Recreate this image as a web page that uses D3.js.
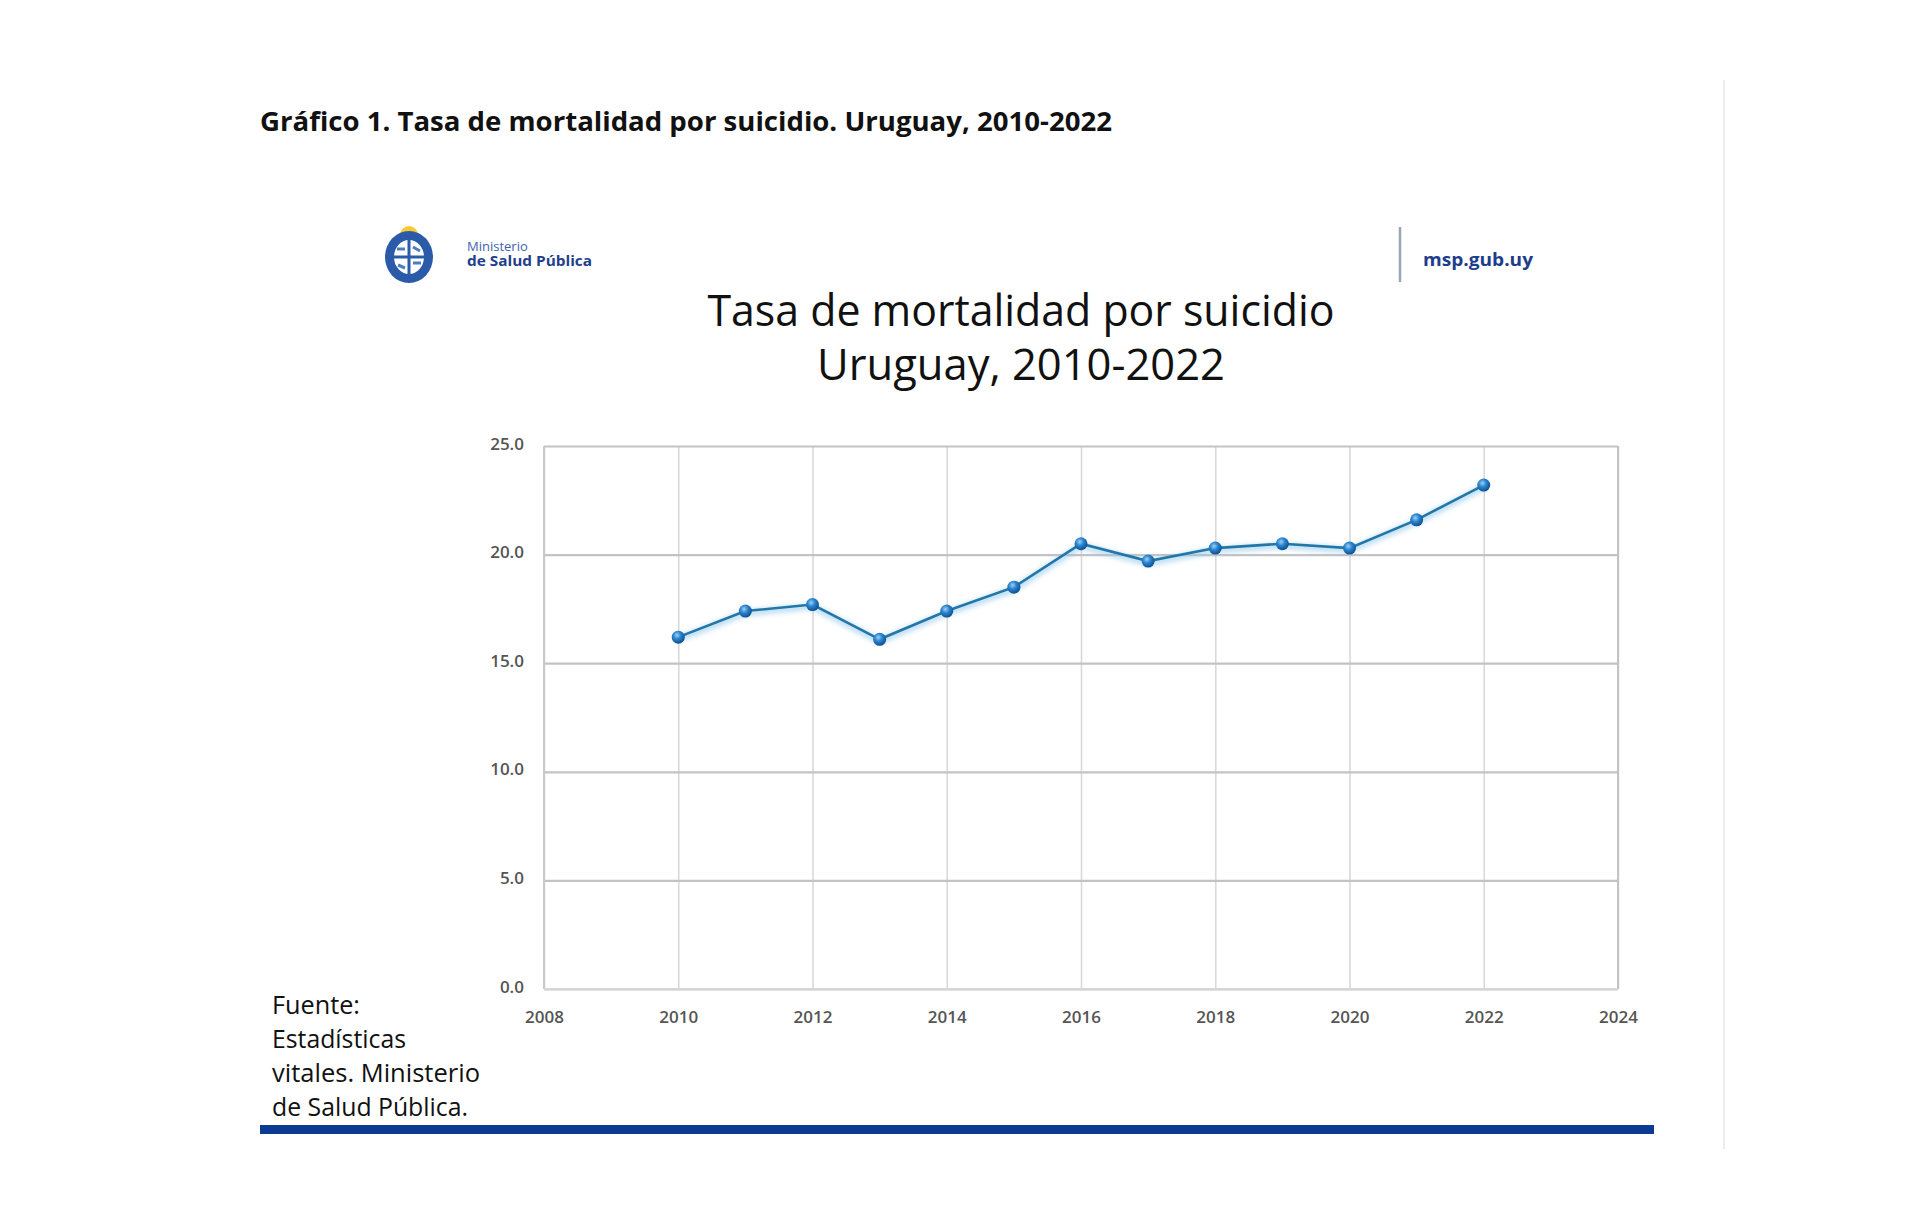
<!DOCTYPE html>
<html lang="es">
<head>
<meta charset="utf-8">
<title>Tasa de mortalidad por suicidio</title>
<script src="https://cdn.jsdelivr.net/npm/d3@7"></script>
<style>
  body { margin: 0; background: #fff; }
  text { font-family: "Open Sans", sans-serif; }
  .grid-y line { stroke: #c3c3c3; stroke-width: 2.2; }
  .grid-x line { stroke: #d9d9d9; stroke-width: 1.6; }
  .grid-y path, .grid-x path { display: none; }
  .tick-lbl text { fill: #555; font-weight: 600; font-size: 17px; }
  .tick-lbl path, .tick-lbl line { display: none; }
</style>
</head>
<body>
<script>
// data
var years = [2010, 2011, 2012, 2013, 2014, 2015, 2016, 2017, 2018, 2019, 2020, 2021, 2022];
var rates = [16.2, 17.4, 17.7, 16.1, 17.4, 18.5, 20.5, 19.7, 20.3, 20.5, 20.3, 21.6, 23.2];
var xTicks = [2008, 2010, 2012, 2014, 2016, 2018, 2020, 2022, 2024];
var yTicks = [0, 5, 10, 15, 20, 25];
var sourceLines = ["Fuente:", "Estadísticas", "vitales. Ministerio", "de Salud Pública."];

var W = 1920, H = 1229;
var svg = d3.select("body").append("svg").attr("width", W).attr("height", H);

var defs = svg.append("defs");
var grad = defs.append("radialGradient").attr("id", "ball")
  .attr("cx", "40%").attr("cy", "35%").attr("r", "65%");
grad.append("stop").attr("offset", "0%").attr("stop-color", "#9fd0f5");
grad.append("stop").attr("offset", "45%").attr("stop-color", "#2b86d0");
grad.append("stop").attr("offset", "100%").attr("stop-color", "#0f4f8f");
var glow = defs.append("filter").attr("id", "glow").attr("x", "-10%").attr("y", "-10%").attr("width", "120%").attr("height", "140%");
glow.append("feGaussianBlur").attr("stdDeviation", 2.5);

// stretch / squeeze a text to a given width
function fit(sel, w) {
  sel.attr("textLength", w).attr("lengthAdjust", "spacingAndGlyphs");
}

// page title
svg.append("text").attr("x", 260).attr("y", 131)
  .attr("font-size", 27.5).attr("font-weight", 700).attr("fill", "#111")
  .text("Gráfico 1. Tasa de mortalidad por suicidio. Uruguay, 2010-2022")
  .call(fit, 852);

// right page edge
svg.append("line").attr("x1", 1724).attr("x2", 1724).attr("y1", 80).attr("y2", 1149)
  .attr("stroke", "#ececec").attr("stroke-width", 2);

// header: emblem
var logo = svg.append("g").attr("transform", "translate(409,257)");
logo.append("circle").attr("cx", 0).attr("cy", -22).attr("r", 9).attr("fill", "#f7c933");
logo.append("ellipse").attr("rx", 24).attr("ry", 26).attr("fill", "#2a5aa8");
logo.append("ellipse").attr("rx", 15).attr("ry", 17).attr("fill", "#fff");
logo.append("path").attr("d", "M-15,0 L15,0 M0,-17 L0,17").attr("stroke", "#2a5aa8").attr("stroke-width", 3);
logo.append("path").attr("d", "M-12,-8 L-4,-8 M4,6 L12,6 M-11,8 L-4,11 M4,-10 L11,-6")
  .attr("stroke", "#4d7cc2").attr("stroke-width", 3);
svg.append("text").attr("x", 467).attr("y", 251).attr("font-size", 13).attr("fill", "#3e63ad").text("Ministerio");
svg.append("text").attr("x", 467).attr("y", 266).attr("font-size", 13.5).attr("font-weight", 700).attr("fill", "#1f3f8d")
  .text("de Salud Pública").call(fit, 125);
svg.append("line").attr("x1", 1400).attr("x2", 1400).attr("y1", 227).attr("y2", 282)
  .attr("stroke", "#9aa6b8").attr("stroke-width", 2.5);
svg.append("text").attr("x", 1423).attr("y", 266).attr("font-size", 18).attr("font-weight", 700).attr("fill", "#1c3e8c")
  .text("msp.gub.uy").call(fit, 110);

// chart title
svg.append("text").attr("x", 1021).attr("y", 326).attr("text-anchor", "middle")
  .attr("font-size", 43).attr("fill", "#111").text("Tasa de mortalidad por suicidio").call(fit, 627);
svg.append("text").attr("x", 1021).attr("y", 380).attr("text-anchor", "middle")
  .attr("font-size", 43).attr("fill", "#111").text("Uruguay, 2010-2022").call(fit, 408);

// plot
var pL = 544, pR = 1618, pT = 446, pB = 989;
var x = d3.scaleLinear().domain([2008, 2024]).range([pL, pR]);
var y = d3.scaleLinear().domain([0, 25]).range([pB, pT]);

svg.append("g").attr("class", "grid-x").attr("transform", "translate(0," + pB + ")")
  .call(d3.axisBottom(x).tickValues(xTicks).tickSize(-(pB - pT)).tickFormat(""));
svg.append("g").attr("class", "grid-y").attr("transform", "translate(" + pL + ",0)")
  .call(d3.axisLeft(y).tickValues(yTicks).tickSize(-(pR - pL)).tickFormat(""));
// plot borders
svg.append("line").attr("x1", pL).attr("x2", pL).attr("y1", pT).attr("y2", pB).attr("stroke", "#c9c9c9").attr("stroke-width", 2);
svg.append("line").attr("x1", pR).attr("x2", pR).attr("y1", pT).attr("y2", pB).attr("stroke", "#c3c3c3").attr("stroke-width", 2);
svg.append("line").attr("x1", pL).attr("x2", pR).attr("y1", pB).attr("y2", pB).attr("stroke", "#d6d6d6").attr("stroke-width", 2);

svg.append("g").attr("class", "tick-lbl").attr("transform", "translate(" + (pL - 20) + ",4)")
  .call(d3.axisLeft(y).tickValues(yTicks).tickSize(0).tickPadding(0).tickFormat(d3.format(".1f")))
  .selectAll("text").attr("dy", "-0.05em");
svg.append("g").attr("class", "tick-lbl").attr("transform", "translate(0," + (pB + 22) + ")")
  .call(d3.axisBottom(x).tickValues(xTicks).tickSize(0).tickPadding(0).tickFormat(d3.format("d")));

var pts = years.map(function(d, i) { return [d, rates[i]]; });
var line = d3.line().x(function(d) { return x(d[0]); }).y(function(d) { return y(d[1]); });
svg.append("path").datum(pts).attr("d", line).attr("fill", "none")
  .attr("stroke", "#8cc6ec").attr("stroke-width", 6).attr("opacity", 0.6).attr("filter", "url(#glow)")
  .attr("transform", "translate(0,2)");
svg.append("path").datum(pts).attr("d", line).attr("fill", "none")
  .attr("stroke", "#2276a8").attr("stroke-width", 2.6);
svg.selectAll("circle.pt").data(pts).enter().append("circle").attr("class", "pt")
  .attr("cx", function(d) { return x(d[0]); })
  .attr("cy", function(d) { return y(d[1]); })
  .attr("r", 6.5).attr("fill", "url(#ball)");

// source note
var srcW = [88, 134, 208, 196];
svg.selectAll("text.src").data(sourceLines).enter().append("text").attr("class", "src")
  .attr("x", 272).attr("y", function(d, i) { return 1014 + i * 34; })
  .attr("font-size", 25).attr("fill", "#111").text(function(d) { return d; })
  .attr("textLength", function(d, i) { return srcW[i]; }).attr("lengthAdjust", "spacingAndGlyphs");

// bottom bar
svg.append("rect").attr("x", 260).attr("y", 1125).attr("width", 1394).attr("height", 9).attr("fill", "#0b3a93");
</script>
</body>
</html>
